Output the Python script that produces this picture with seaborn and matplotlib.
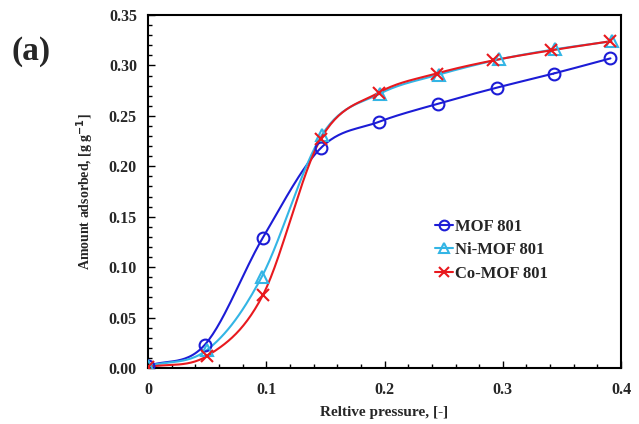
import numpy as np
import matplotlib
matplotlib.use("Agg")
import matplotlib.pyplot as plt
import seaborn as sns
from matplotlib.ticker import MultipleLocator, FormatStrFormatter

# Data
p_mof = [0.0, 0.048, 0.097, 0.146, 0.195, 0.245, 0.295, 0.343, 0.391]
q_mof = [0.002, 0.023, 0.129, 0.218, 0.244, 0.262, 0.278, 0.292, 0.307]

p_ni = [0.0, 0.050, 0.096, 0.147, 0.196, 0.246, 0.297, 0.344, 0.392]
q_ni = [0.002, 0.018, 0.090, 0.231, 0.272, 0.291, 0.306, 0.316, 0.324]

p_co = [0.0, 0.050, 0.097, 0.146, 0.195, 0.244, 0.292, 0.341, 0.391]
q_co = [0.001, 0.012, 0.072, 0.227, 0.273, 0.292, 0.305, 0.315, 0.324]

series = [
    ("MOF 801", p_mof, q_mof, "#1c1cd6", "o"),
    ("Ni-MOF 801", p_ni, q_ni, "#33b5e5", "^"),
    ("Co-MOF 801", p_co, q_co, "#e8191e", "x"),
]


def smooth(x, y, n=30):
    """Catmull-Rom curve through the points (like Excel smoothed lines)."""
    pts = np.column_stack([x, y])
    pts = np.vstack([2 * pts[0] - pts[1], pts, 2 * pts[-1] - pts[-2]])
    out = []
    t = np.linspace(0, 1, n)[:, None]
    for i in range(1, len(pts) - 2):
        p0, p1, p2, p3 = pts[i - 1], pts[i], pts[i + 1], pts[i + 2]
        seg = 0.5 * ((2 * p1) + (-p0 + p2) * t
                     + (2 * p0 - 5 * p1 + 4 * p2 - p3) * t ** 2
                     + (-p0 + 3 * p1 - 3 * p2 + p3) * t ** 3)
        out.append(seg)
    out = np.vstack(out)
    return out[:, 0], out[:, 1]


sns.set_style("white")
plt.rcParams['font.family'] = ['Liberation Serif', 'DejaVu Serif']
plt.rcParams['font.weight'] = 'bold'

fig = plt.figure(figsize=(6.39, 4.24), dpi=100)
ax = fig.add_axes([0.2316, 0.132, 0.7404, 0.8326])

for name, px, qy, col, mk in series:
    sx, sy = smooth(px, qy)
    ax.plot(sx, sy, color=col, lw=1.5, zorder=2)
    if mk == "x":
        ax.plot(px, qy, ls="none", marker=mk, ms=8, mew=1.5, color=col, zorder=3)
    else:
        ax.plot(px, qy, ls="none", marker=mk, ms=8.5, mew=1.5, mfc="none",
                mec=col, zorder=3)
    # legend handle
    ax.plot([], [], color=col, lw=1.5, marker=mk, ms=7, mew=1.5,
            mfc="none" if mk != "x" else col, mec=col, label=name)

ax.set_xlim(0, 0.4)
ax.set_ylim(0, 0.35)
ax.xaxis.set_major_locator(MultipleLocator(0.1))
ax.xaxis.set_minor_locator(MultipleLocator(0.02))
ax.yaxis.set_major_locator(MultipleLocator(0.05))
ax.yaxis.set_minor_locator(MultipleLocator(0.01))
ax.yaxis.set_major_formatter(FormatStrFormatter('%.2f'))
ax.xaxis.set_major_formatter(matplotlib.ticker.FuncFormatter(
    lambda v, p: "0" if abs(v) < 1e-9 else f"{v:.1f}"))

ax.tick_params(which="both", direction="in", bottom=True, left=True,
               top=False, right=False, color="black", labelsize=11.5)
ax.tick_params(which="major", length=5, width=1)
ax.tick_params(which="minor", length=3, width=1)
ax.tick_params(axis="x", pad=10)
ax.tick_params(axis="y", pad=8)
for lbl in ax.get_xticklabels() + ax.get_yticklabels():
    lbl.set_fontweight("bold")
for sp in ax.spines.values():
    sp.set_color("black")
    sp.set_linewidth(1.5)

ax.set_xlabel("Reltive pressure, [-]", fontsize=11, fontweight="bold", labelpad=6)
ax.set_ylabel("Amount adsorbed, [g g$^{\\mathbf{-1}}$]", fontsize=10,
              fontweight="bold", labelpad=9)

ax.legend(loc="center left", bbox_to_anchor=(0.575, 0.334), frameon=False,
          prop={"size": 12, "weight": "bold"}, handlelength=1.1,
          handletextpad=0.1, labelspacing=0.45)

fig.text(0.018, 0.86, "(a)", fontsize=24, fontweight="bold")

fig.savefig("out.png", dpi=100)
